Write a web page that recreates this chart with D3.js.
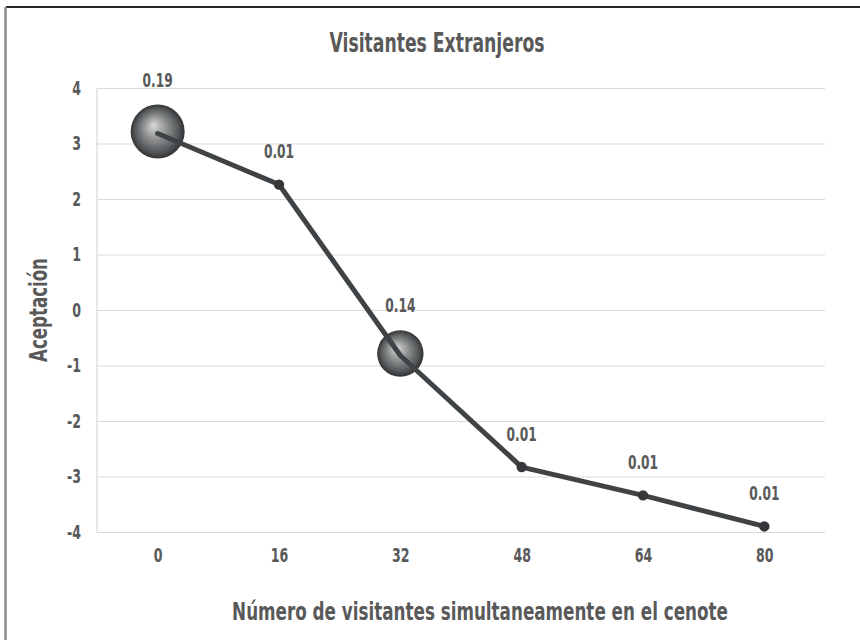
<!DOCTYPE html>
<html>
<head>
<meta charset="utf-8">
<script src="https://cdn.jsdelivr.net/npm/d3@7"></script>
<style>
  body { margin: 0; background: #fff; }
  text { font-family: "Liberation Sans Narrow", "DejaVu Sans Condensed", sans-serif; font-weight: bold; fill: #595959; }
</style>
</head>
<body>
<div id="chart"></div>
<script>
// values
var visitors = ["0", "16", "32", "48", "64", "80"];
var acceptance = [3.18, 2.26, -0.82, -2.83, -3.34, -3.9];
var bubbleSize = [0.19, 0.01, 0.14, 0.01, 0.01, 0.01];
var bubbleLabels = ["0.19", "0.01", "0.14", "0.01", "0.01", "0.01"];
var yTicks = [4, 3, 2, 1, 0, -1, -2, -3, -4];

var W = 860, H = 640;
var margin = { top: 88, right: 35, bottom: 108, left: 97 };
var width = W - margin.left - margin.right,
    height = H - margin.top - margin.bottom;

// squash text sideways so the wide fallback font looks like the narrow original
function squeeze(sel, sx) {
    sel.each(function () {
        var t = d3.select(this);
        var tx = +t.attr("x") || 0, ty = +t.attr("y") || 0;
        t.attr("x", 0).attr("y", 0)
            .attr("transform", "translate(" + tx + "," + ty + ") scale(" + sx + ",1)");
    });
}

// fit a text to a given width by scaling it
function fitWidth(t, x0, y0, w, rot) {
    var len = t.node().getComputedTextLength();
    t.attr("transform", "translate(" + x0 + "," + y0 + ")" + (rot ? " rotate(-90)" : "") +
        " scale(" + (w / len) + ",1)");
}

var svg = d3.select("#chart").append("svg")
    .attr("width", W)
    .attr("height", H);

// frame (only top and left edges show)
svg.append("line").attr("x1", 6).attr("x2", W).attr("y1", 7).attr("y2", 7)
    .attr("stroke", "#262626").attr("stroke-width", 2);
svg.append("line").attr("x1", 5.5).attr("x2", 5.5).attr("y1", 7).attr("y2", H)
    .attr("stroke", "#8c8c8c").attr("stroke-width", 2.5);

var defs = svg.append("defs");
var grad = defs.append("radialGradient")
    .attr("id", "sphere")
    .attr("cx", "50%").attr("cy", "50%").attr("r", "50%")
    .attr("fx", "42%").attr("fy", "38%");
grad.append("stop").attr("offset", "0%").attr("stop-color", "#d8d9d9");
grad.append("stop").attr("offset", "40%").attr("stop-color", "#939596");
grad.append("stop").attr("offset", "80%").attr("stop-color", "#56595b");
grad.append("stop").attr("offset", "100%").attr("stop-color", "#303132");

var x = d3.scalePoint().domain(visitors).range([0, width]).padding(0.5);
var y = d3.scaleLinear().domain([-4, 4]).range([height, 0]);
var r = d3.scaleSqrt().domain([0, 0.19]).range([0, 27]);

var g = svg.append("g")
    .attr("transform", "translate(" + margin.left + "," + margin.top + ")");

// gridlines
g.append("g")
    .call(d3.axisLeft(y).tickValues(yTicks).tickSize(-width).tickFormat(""))
    .call(function (s) {
        s.select(".domain").remove();
        s.selectAll("line").attr("stroke", "#d9d9d9").attr("stroke-width", 1.2);
    });
g.append("line").attr("x1", 0).attr("x2", 0).attr("y1", 0).attr("y2", height)
    .attr("stroke", "#d9d9d9").attr("stroke-width", 1.2);

// y axis labels
g.append("g")
    .call(d3.axisLeft(y).tickValues(yTicks).tickSize(0).tickPadding(16)
        .tickFormat(function (d) { return String(d); }))
    .call(function (s) {
        s.select(".domain").remove();
        s.selectAll("text").style("font-size", "20px").attr("fill", "#595959")
            .call(squeeze, 0.7);
    });

// x axis labels
g.append("g")
    .attr("transform", "translate(0," + height + ")")
    .call(d3.axisBottom(x).tickSize(0).tickPadding(16))
    .call(function (s) {
        s.select(".domain").remove();
        s.selectAll("text").style("font-size", "20px").attr("fill", "#595959")
            .call(squeeze, 0.7);
    });

var pts = visitors.map(function (v, i) {
    return { k: v, v: acceptance[i], s: bubbleSize[i], l: bubbleLabels[i] };
});

// bubbles
g.selectAll(".bubble")
    .data(pts.filter(function (d) { return d.s > 0.05; }))
    .enter().append("circle")
    .attr("class", "bubble")
    .attr("cx", function (d) { return x(d.k); })
    .attr("cy", function (d) { return y(d.v) - 2; })
    .attr("r", function (d) { return r(d.s); })
    .attr("fill", "url(#sphere)");

var line = d3.line()
    .x(function (d) { return x(d.k); })
    .y(function (d) { return y(d.v); });

g.append("path")
    .datum(pts)
    .attr("d", line)
    .attr("fill", "none")
    .attr("stroke", "#404345")
    .attr("stroke-width", 5)
    .attr("stroke-linecap", "round")
    .attr("stroke-linejoin", "round");

// small markers
g.selectAll(".dot")
    .data(pts.filter(function (d) { return d.s <= 0.05; }))
    .enter().append("circle")
    .attr("class", "dot")
    .attr("cx", function (d) { return x(d.k); })
    .attr("cy", function (d) { return y(d.v); })
    .attr("r", function (d) { return r(d.s) - 1; })
    .attr("fill", "#35373a");

// bubble labels
g.selectAll(".lbl")
    .data(pts)
    .enter().append("text")
    .attr("class", "lbl")
    .attr("x", function (d) { return x(d.k); })
    .attr("y", function (d) { return y(d.v) - r(d.s) - 20; })
    .attr("text-anchor", "middle")
    .style("font-size", "20px")
    .text(function (d) { return d.l; })
    .call(squeeze, 0.68);

// titles
var title = svg.append("text")
    .attr("text-anchor", "middle")
    .style("font-size", "26px")
    .text("Visitantes Extranjeros");
fitWidth(title, 437, 52, 215);

var xTitle = svg.append("text")
    .attr("text-anchor", "middle")
    .style("font-size", "25px")
    .text("Número de visitantes simultaneamente en el cenote");
fitWidth(xTitle, 480, 620, 496);

var yTitle = svg.append("text")
    .attr("text-anchor", "middle")
    .style("font-size", "24px")
    .text("Aceptación");
fitWidth(yTitle, 47, 310, 104, true);
</script>
</body>
</html>
